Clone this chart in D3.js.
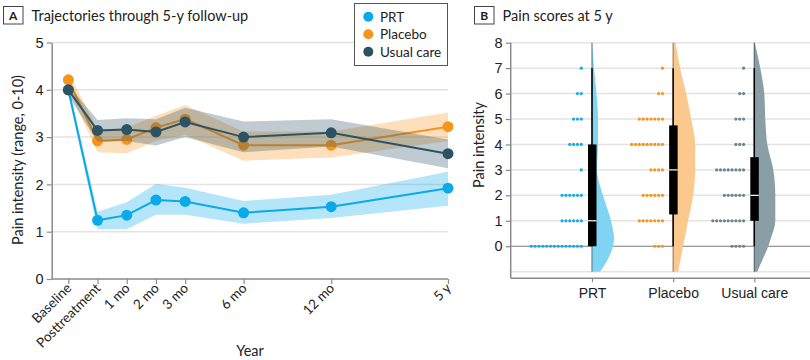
<!DOCTYPE html>
<html><head><meta charset="utf-8">
<script src="https://cdn.jsdelivr.net/npm/d3@7/dist/d3.min.js"></script>
<style>
body{margin:0;background:#fff;}
svg{display:block;font-family:Lato,"Open Sans",sans-serif;}
</style></head><body>
<svg id="c" width="810" height="360"></svg>
<script>
// ---------- Panel A data ----------
const timeLabels = ["Baseline","Posttreatment","1 mo","2 mo","3 mo","6 mo","12 mo","5 y"];
const timePos = [0,1,2,3,4,6,9,13];
const seriesNames = ["PRT","Placebo","Usual care"];
const prtMean = [4.0,1.24,1.35,1.67,1.64,1.40,1.53,1.92];
const prtLo   = [3.9,1.05,1.05,1.36,1.36,1.17,1.29,1.55];
const prtHi   = [4.1,1.42,1.62,2.01,1.93,1.65,1.78,2.27];
const placeboMean = [4.21,2.92,2.95,3.20,3.38,2.83,2.83,3.22];
const placeboLo   = [4.02,2.68,2.66,2.92,3.05,2.50,2.57,2.92];
const placeboHi   = [4.38,3.15,3.20,3.45,3.68,3.12,3.12,3.52];
const usualMean = [4.0,3.14,3.16,3.11,3.32,3.00,3.09,2.65];
const usualLo   = [3.88,2.90,2.92,2.82,3.00,2.68,2.80,2.34];
const usualHi   = [4.10,3.36,3.40,3.38,3.62,3.33,3.38,2.95];
const yTicksA = [0,1,2,3,4,5];

// ---------- Panel B data ----------
const groups = ["PRT","Placebo","Usual care"];
const scoreLevels = [0,1,2,3,4,5,6,7];
const prtCounts     = [14,6,6,1,4,3,2,1];
const placeboCounts = [3,7,6,4,9,7,2,1];
const usualCounts   = [4,9,6,8,3,3,2,1];
const boxMin = [0,0,0];
const boxQ1  = [0,1.25,1];
const boxMed = [1,3,2];
const boxQ3  = [4,4.75,3.5];
const boxMax = [7,7,7];
const densityLevels = [-1,-0.5,0,0.3,1,2,3,4,5,6,7,8];
const prtDensity     = [8,16,21,22,19,11,5,6,6,4.5,2,0];
const placeboDensity = [5,7.5,10,11.5,15,20,22,22,18,13,7,2.4];
const usualDensity   = [3,8.5,14,16.5,21,21,19,13,11,10,6,0.5];
const yTicksB = [-1,0,1,2,3,4,5,6,7,8];

const colors = ["#0aa9e8","#f7941d","#2c5364"];
const bandColors = ["#0aa9e8","#f7941d","#2c5364"];
const violinColors = ["#7fd4f3","#fbc98e","#8a9ea6"];
const dotColors = ["#19a9e5","#f7941d","#6b8591"];

const svg = d3.select("#c");
const gridCol = "#e3e3e3", axisCol = "#8a8a8a";

// ---------- Headers ----------
function header(x, letter, title){
  svg.append("rect").attr("x",x).attr("y",6.5).attr("width",19.5).attr("height",17.5)
    .attr("fill","#fff").attr("stroke","#444").attr("stroke-width",1);
  svg.append("text").attr("x",x+9.75).attr("y",20).attr("text-anchor","middle")
    .attr("font-size",12).attr("font-weight","bold").attr("fill","#222").text(letter);
  svg.append("text").attr("x",x+28).attr("y",20.5).attr("font-size",14.5).attr("fill","#222").text(title);
}
header(3.5,"A","Trajectories through 5-y follow-up");
header(474.5,"B","Pain scores at 5 y");

// ---------- Panel A ----------
const xA = d3.scaleLinear().domain([-0.57,13]).range([51.7,448]);
const yA = d3.scaleLinear().domain([0,5]).range([279,42.5]);
const gA = svg.append("g");
gA.selectAll("line.grid").data(yTicksA.filter(d=>d>0)).join("line")
  .attr("x1",52).attr("x2",448).attr("y1",d=>yA(d)).attr("y2",d=>yA(d))
  .attr("stroke",gridCol).attr("stroke-width",1.5);
const axL = gA.append("g").attr("transform","translate(51.7,0)")
  .call(d3.axisLeft(yA).tickValues(yTicksA).tickFormat(d3.format("d")).tickSize(5).tickSizeOuter(0));
const axB = gA.append("g").attr("transform","translate(0,279)")
  .call(d3.axisBottom(xA).tickValues(timePos).tickSize(5).tickSizeOuter(0).tickFormat(""));
[axL,axB].forEach(a=>{a.select(".domain").attr("stroke",axisCol).attr("stroke-width",1.5);
  a.selectAll(".tick line").attr("stroke",axisCol).attr("stroke-width",1.2);});
axL.selectAll(".tick text").attr("font-size",14.5).attr("fill","#222").attr("x",-8)
  .attr("font-family","inherit");
axB.select(".domain").attr("d","M51.7,0H448");
gA.selectAll("text.xl").data(timeLabels).join("text").attr("class","xl")
  .attr("transform",(d,i)=>`translate(${xA(timePos[i])+4},${289}) rotate(-45)`)
  .attr("text-anchor","end").attr("font-size",13.5).attr("fill","#222").text(d=>d);
svg.append("text").attr("x",250).attr("y",356).attr("text-anchor","middle")
  .attr("font-size",14.5).attr("fill","#222").text("Year");
svg.append("text").attr("transform","translate(23,160) rotate(-90)").attr("text-anchor","middle")
  .attr("font-size",14.5).attr("fill","#222").text("Pain intensity (range, 0-10)");

const allSeries = [[prtMean,prtLo,prtHi],[placeboMean,placeboLo,placeboHi],[usualMean,usualLo,usualHi]];
allSeries.forEach(([m,lo,hi],s)=>{
  const idx = d3.range(timePos.length);
  gA.append("path").datum(idx)
    .attr("d",d3.area().x(i=>xA(timePos[i])).y0(i=>yA(lo[i])).y1(i=>yA(hi[i])))
    .attr("fill",bandColors[s]).attr("fill-opacity",0.3);
  gA.append("path").datum(idx)
    .attr("d",d3.line().x(i=>xA(timePos[i])).y(i=>yA(m[i])))
    .attr("fill","none").attr("stroke",colors[s]).attr("stroke-width",2);
  gA.selectAll(null).data(idx).join("circle")
    .attr("cx",i=>xA(timePos[i])).attr("cy",i=>yA(m[i])).attr("r",5.5).attr("fill",colors[s]);
});

// Legend
svg.append("rect").attr("x",354.5).attr("y",3.5).attr("width",93).attr("height",62)
  .attr("fill","#fff").attr("stroke","#555").attr("stroke-width",1);
seriesNames.forEach((n,i)=>{
  const y = 16.7 + i*17.5;
  svg.append("circle").attr("cx",368.3).attr("cy",y).attr("r",5).attr("fill",colors[i]);
  svg.append("text").attr("x",380).attr("y",y+4.8).attr("font-size",13.5).attr("fill","#222").text(n);
});

// ---------- Panel B ----------
const xB = d3.scalePoint().domain(groups).range([592,754.3]);
const yB = d3.scaleLinear().domain([-1.26,8]).range([278.3,42.7]);
const gB = svg.append("g");
gB.selectAll("line.grid").data(yTicksB).join("line")
  .attr("x1",511).attr("x2",810).attr("y1",d=>yB(d)).attr("y2",d=>yB(d))
  .attr("stroke",d=>d===0?"#7a7a7a":gridCol).attr("stroke-width",d=>d===0?1.2:1.5);
const axLB = gB.append("g").attr("transform","translate(510.7,0)")
  .call(d3.axisLeft(yB).tickValues(yTicksB.filter(d=>d>=0)).tickFormat(d3.format("d")).tickSize(5).tickSizeOuter(0));
axLB.select(".domain").attr("d","M0,42.7V278.3");
const axBB = gB.append("g").attr("transform","translate(0,278.3)")
  .call(d3.axisBottom(xB).tickSize(4).tickSizeOuter(0));
axBB.select(".domain").attr("d","M510.7,0H810");
[axLB,axBB].forEach(a=>{a.select(".domain").attr("stroke",axisCol).attr("stroke-width",1.5);
  a.selectAll(".tick line").attr("stroke",axisCol).attr("stroke-width",1.2);
  a.selectAll(".tick text").attr("font-size",14).attr("fill","#222").attr("font-family","inherit");});
axLB.selectAll(".tick text").attr("x",-8).attr("font-size",14.5);
axBB.selectAll(".tick text").attr("y",10);
svg.append("text").attr("transform","translate(484,145) rotate(-90)").attr("text-anchor","middle")
  .attr("font-size",14.5).attr("fill","#222").text("Pain intensity");

const countsAll = [prtCounts,placeboCounts,usualCounts];
const densAll = [prtDensity,placeboDensity,usualDensity];
groups.forEach((g,k)=>{
  const cx = xB(g);
  const idx = d3.range(densityLevels.length);
  gB.append("path").datum(idx)
    .attr("d",d3.area().curve(d3.curveMonotoneY)
      .y(i=>yB(densityLevels[i])).x0(cx).x1(i=>cx+densAll[k][i]))
    .attr("fill",violinColors[k]);
  gB.append("line").attr("x1",cx).attr("x2",cx).attr("y1",yB(-1)).attr("y2",yB(8))
    .attr("stroke",d3.color(violinColors[k]).darker(1.2)).attr("stroke-width",1.2);
  scoreLevels.forEach((lv,j)=>{
    gB.selectAll(null).data(d3.range(countsAll[k][j])).join("circle")
      .attr("cx",n=>cx-10.7-n*3.85).attr("cy",yB(lv)).attr("r",1.6).attr("fill",dotColors[k]);
  });
  gB.append("line").attr("x1",cx).attr("x2",cx).attr("y1",yB(boxMin[k])).attr("y2",yB(boxMax[k]))
    .attr("stroke","#000").attr("stroke-width",1.5);
  gB.append("rect").attr("x",cx-4).attr("width",8.5)
    .attr("y",yB(boxQ3[k])).attr("height",yB(boxQ1[k])-yB(boxQ3[k])).attr("fill","#000");
  gB.append("line").attr("x1",cx-4).attr("x2",cx+4.5).attr("y1",yB(boxMed[k])).attr("y2",yB(boxMed[k]))
    .attr("stroke","#fff").attr("stroke-width",1.2);
});
</script></body></html>
